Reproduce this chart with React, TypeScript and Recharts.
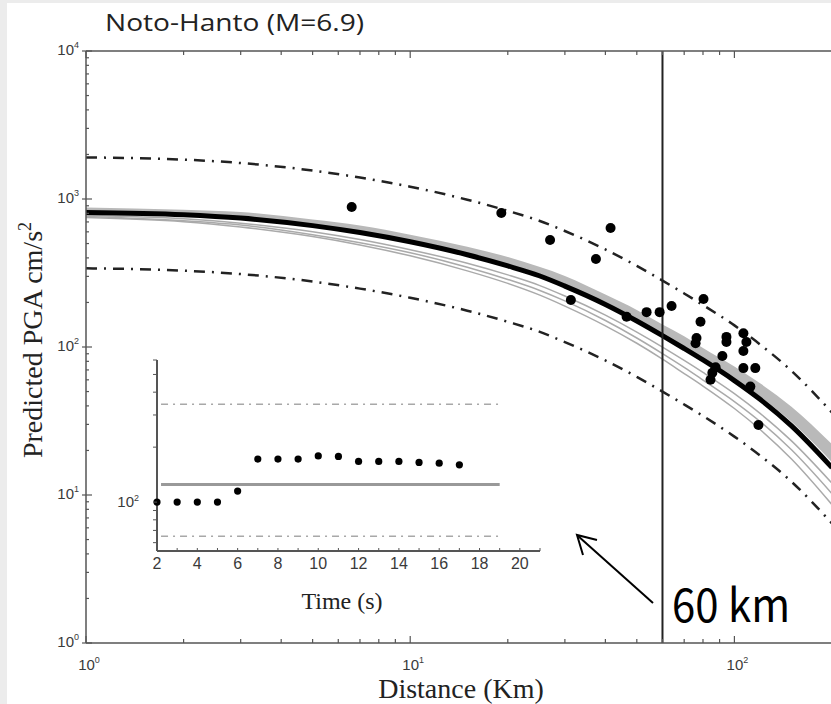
import { ComposedChart, Line, Area, Scatter, XAxis, YAxis, ReferenceLine } from 'recharts';

// model curves, sampled at these distances (km)
const distances = [1, 2, 3, 5, 7, 10, 15, 20, 25, 30, 40, 50, 60, 70, 80, 100, 120, 150, 200];
const meanPga = [811, 783, 743, 661, 593, 514, 420, 353, 303, 258, 194, 150, 119.4, 97.7, 81.7, 59.3, 44.3, 29.3, 15.3];
const bandLow = [824, 796, 755, 671, 603, 522, 427, 359, 308, 262, 197, 152, 121, 99.3, 83.0, 61.2, 46.3, 31.2, 16.6];
const bandHigh = [877, 847, 817, 726, 662, 574, 475, 406, 348, 302, 226, 178, 142, 118, 98.4, 73.8, 56.8, 39.4, 22.0];
const modelA = [774, 736, 687, 601, 532, 454, 368, 307, 261, 221, 164, 126, 99.8, 81.1, 67.3, 48.4, 35.6, 23.2, 12.0];
const modelB = [762, 713, 667, 574, 507, 434, 346, 286, 242, 205, 151, 115, 90.2, 72.8, 59.8, 42.8, 31.4, 20.2, 10.2];
const modelC = [750, 703, 646, 557, 489, 413, 327, 269, 225, 189, 139, 106, 82.8, 66.2, 54.5, 38.4, 27.7, 17.5, 8.6];
const upperPga = [1910, 1845, 1750, 1556, 1396, 1211, 989, 832, 713, 608, 456, 353, 281, 230, 192, 140, 104, 69.0, 36.1];
const lowerPga = [340, 328, 311, 277, 248, 215, 176, 148, 127, 108, 81.1, 62.8, 50.0, 40.9, 34.2, 24.8, 18.5, 12.3, 6.43];

// observed stations
const obsDist = [6.6, 19.1, 27.0, 41.5, 37.4, 31.3, 46.5, 53.6, 58.8, 64.0, 80.3, 78.6, 76.4, 75.9, 94.5, 94.5, 91.8,
  106.6, 108.9, 106.6, 106.6, 116, 87.5, 85.5, 84.4, 112, 118.6];
const obsPga = [883, 804, 528, 637, 393, 208, 160, 172, 172, 189, 211, 148, 115, 106, 117, 108, 87,
  124, 108, 94, 72, 72, 73, 67, 60, 54, 29.7];

// inset: predicted PGA vs time
const insetTime = [2, 3, 4, 5, 6, 7, 8, 9, 10, 11, 12, 13, 14, 15, 16, 17];
const insetPga = [100, 100, 100, 100, 115, 172, 172, 172, 179, 178, 167, 167, 167, 165, 163.5, 160];
const insetSpan = [2.2, 19];
const insetMean = 125;
const insetUpper = 343;
const insetLower = 65;

const xTicks = [1, 2, 3, 4, 5, 6, 7, 8, 9, 10, 20, 30, 40, 50, 60, 70, 80, 90, 100, 200];
const yTicks = [1, 2, 3, 4, 5, 6, 7, 8, 9, 10, 20, 30, 40, 50, 60, 70, 80, 90, 100, 200, 300, 400, 500, 600, 700, 800, 900,
  1000, 2000, 3000, 4000, 5000, 6000, 7000, 8000, 9000, 10000];
const insetTimeTicks = [2, 3, 4, 5, 6, 7, 8, 9, 10, 11, 12, 13, 14, 15, 16, 17, 18, 19, 20, 21];
const insetPgaTicks = [60, 70, 80, 90, 100, 200, 300, 400, 500, 600];

const curves = distances.map((d, i) => ({
  d,
  mean: meanPga[i],
  band: [bandLow[i], bandHigh[i]],
  a: modelA[i],
  b: modelB[i],
  c: modelC[i],
  up: upperPga[i],
  lo: lowerPga[i],
}));
const obsData = obsDist.map((d, i) => ({ d, v: obsPga[i] }));
const insetData = insetTime.map((t, i) => ({ t, v: insetPga[i] }));
const flat = (v: number) => insetSpan.map((t) => ({ t, v }));

const AXIS = '#555';
const TXT = '#3a3a3a';
const SANS = 'Liberation Sans, Arial, sans-serif';
const SERIF = 'Liberation Serif, Times New Roman, serif';

const isDecade = (v: number) => Math.abs(Math.log10(v) - Math.round(Math.log10(v))) < 1e-9;
const expOf = (v: number) => Math.round(Math.log10(v));

const tickText = (size: number) => ({ fontSize: size, fontFamily: SANS, fill: TXT });

const BottomTick = (props: any) => {
  const { x, y, payload } = props;
  const major = isDecade(payload.value);
  return (
    <g>
      <line x1={x} x2={x} y1={y} y2={y - (major ? 7 : 4)} stroke={AXIS} strokeWidth={1.2} />
      {major && (
        <text x={x + 3} y={y + 27} textAnchor="middle" style={tickText(15)}>
          10<tspan dy={-7} style={{ fontSize: 9 }}>{expOf(payload.value)}</tspan>
        </text>
      )}
    </g>
  );
};

const TopTick = (props: any) => {
  const { x, y, payload } = props;
  const major = isDecade(payload.value);
  return <line x1={x} x2={x} y1={y} y2={y + (major ? 7 : 4)} stroke={AXIS} strokeWidth={1.2} />;
};

const LeftTick = (props: any) => {
  const { x, y, payload } = props;
  const major = isDecade(payload.value);
  return (
    <g>
      <line x1={major ? x - 4 : x} x2={x + (major ? 6 : 3)} y1={y} y2={y} stroke={AXIS} strokeWidth={1.2} />
      {major && (
        <text x={x - 7} y={y + 4} textAnchor="end" style={tickText(15)}>
          10<tspan dy={-7} style={{ fontSize: 9 }}>{expOf(payload.value)}</tspan>
        </text>
      )}
    </g>
  );
};

const RightTick = (props: any) => {
  const { x, y, payload } = props;
  const major = isDecade(payload.value);
  return <line x1={x} x2={x - (major ? 8 : 5)} y1={y} y2={y} stroke={AXIS} strokeWidth={1.2} />;
};

const InsetXTick = (props: any) => {
  const { x, y, payload } = props;
  const v = payload.value;
  return (
    <g>
      <line x1={x} x2={x} y1={y} y2={y - 3} stroke={AXIS} strokeWidth={1} />
      {v % 2 === 0 && v <= 20 && (
        <text x={x} y={y + 18} textAnchor="middle" style={tickText(16)}>{v}</text>
      )}
    </g>
  );
};

const InsetYTick = (props: any) => {
  const { x, y, payload } = props;
  const major = payload.value === 100;
  return (
    <g>
      <line x1={x - 4} x2={x} y1={y} y2={y} stroke={AXIS} strokeWidth={1} />
      {major && (
        <text x={x - 18} y={y + 5} textAnchor="end" style={tickText(15)}>
          10<tspan dy={-6} style={{ fontSize: 9 }}>2</tspan>
        </text>
      )}
    </g>
  );
};

const Dot = (r: number) => (p: any) => <circle cx={p.cx} cy={p.cy} r={r} fill="#000" />;

const dashDot = '11 7 2 7';
const axisLine = { stroke: AXIS, strokeWidth: 1.5 };

export default function App() {
  return (
    <div style={{ position: 'absolute', left: 0, top: 0, width: 831, height: 704, background: '#fff', overflow: 'hidden' }}>
      <div style={{ position: 'absolute', left: 0, top: 0, width: 7, height: 704, background: '#ececec' }} />
      <div style={{ position: 'absolute', left: 0, top: 0, width: 831, height: 3, background: '#ececec' }} />

      <div style={{ position: 'absolute', left: 0, top: 0 }}>
        <ComposedChart width={833} height={704} data={curves} margin={{ top: 50, right: 0, bottom: 60, left: 85 }}>
          <XAxis xAxisId={0} type="number" dataKey="d" scale="log" domain={[1, 200]} ticks={xTicks} interval={0}
            height={1} tickSize={0} tickMargin={0} tick={<BottomTick />} axisLine={axisLine} />
          <XAxis xAxisId="top" orientation="top" type="number" dataKey="d" scale="log" domain={[1, 200]} ticks={xTicks}
            interval={0} height={1} tickSize={0} tickMargin={0} tick={<TopTick />} axisLine={axisLine} />
          <YAxis yAxisId={0} type="number" dataKey="v" scale="log" domain={[1, 10000]} ticks={yTicks} interval={0}
            width={1} tickSize={0} tickMargin={0} tick={<LeftTick />} axisLine={axisLine} />
          <YAxis yAxisId="right" orientation="right" type="number" dataKey="v" scale="log" domain={[1, 10000]} ticks={yTicks}
            interval={0} width={1} tickSize={0} tickMargin={0} tick={<RightTick />} axisLine={axisLine} />

          <Line dataKey="c" type="monotone" stroke="#aaa" strokeWidth={1.5} dot={false} isAnimationActive={false} />
          <Line dataKey="b" type="monotone" stroke="#aaa" strokeWidth={1.5} dot={false} isAnimationActive={false} />
          <Line dataKey="a" type="monotone" stroke="#aaa" strokeWidth={1.5} dot={false} isAnimationActive={false} />
          <Area dataKey="band" type="monotone" stroke="none" fill="#b9b9b9" fillOpacity={1} isAnimationActive={false} />
          <Line dataKey="mean" type="monotone" stroke="#000" strokeWidth={5} dot={false} isAnimationActive={false} />
          <Line dataKey="up" type="monotone" stroke="#222" strokeWidth={2.5} strokeDasharray={dashDot} dot={false} isAnimationActive={false} />
          <Line dataKey="lo" type="monotone" stroke="#222" strokeWidth={2.5} strokeDasharray={dashDot} dot={false} isAnimationActive={false} />
          <Scatter data={obsData} shape={Dot(5)} isAnimationActive={false} />
          <ReferenceLine x={60} stroke="#222" strokeWidth={2} />
        </ComposedChart>
      </div>

      <div style={{ position: 'absolute', left: 100, top: 340 }}>
        <ComposedChart width={460} height={280} margin={{ top: 20, right: 20, bottom: 68, left: 56 }}>
          <XAxis type="number" dataKey="t" domain={[2, 21]} ticks={insetTimeTicks} interval={0}
            height={1} tickSize={0} tickMargin={0} tick={<InsetXTick />} axisLine={{ stroke: AXIS, strokeWidth: 2 }} />
          <YAxis type="number" dataKey="v" scale="log" domain={[54, 600]} ticks={insetPgaTicks} interval={0}
            width={1} tickSize={0} tickMargin={0} tick={<InsetYTick />} axisLine={{ stroke: AXIS, strokeWidth: 2 }} />
          <Line data={flat(insetUpper)} dataKey="v" stroke="#a8a8a8" strokeWidth={1.5} strokeDasharray="7 5 2 5" dot={false} isAnimationActive={false} />
          <Line data={flat(insetLower)} dataKey="v" stroke="#a8a8a8" strokeWidth={1.5} strokeDasharray="7 5 2 5" dot={false} isAnimationActive={false} />
          <Line data={flat(insetMean)} dataKey="v" stroke="#999" strokeWidth={3} dot={false} isAnimationActive={false} />
          <Scatter data={insetData} shape={Dot(3.6)} isAnimationActive={false} />
        </ComposedChart>
      </div>

      <svg width={831} height={704} style={{ position: 'absolute', left: 0, top: 0, pointerEvents: 'none' }}>
        <text x={105} y={31} fontSize={24} fill="#222" fontFamily="Open Sans, Noto Sans, sans-serif"
          textLength={259} lengthAdjust="spacingAndGlyphs">Noto-Hanto (M=6.9)</text>
        <text transform="translate(42,340) rotate(-90)" textAnchor="middle" fontSize={28} fill="#222" fontFamily={SERIF}>
          Predicted PGA cm/s<tspan dy={-11} fontSize={18}>2</tspan>
        </text>
        <text x={461} y={698} textAnchor="middle" fontSize={28} fill="#222" fontFamily={SERIF}>Distance (Km)</text>
        <text x={342} y={609} textAnchor="middle" fontSize={24} fill="#222" fontFamily={SERIF}>Time (s)</text>
        <line x1={653} y1={603} x2={578} y2={536} stroke="#000" strokeWidth={2} />
        <polyline points="597,540 577,535 583,555" fill="none" stroke="#000" strokeWidth={2} />
        <text x={672} y={622} fontSize={46} fill="#000" fontFamily="Noto Sans CJK JP, sans-serif"
          textLength={118} lengthAdjust="spacingAndGlyphs">60 km</text>
      </svg>
    </div>
  );
}
